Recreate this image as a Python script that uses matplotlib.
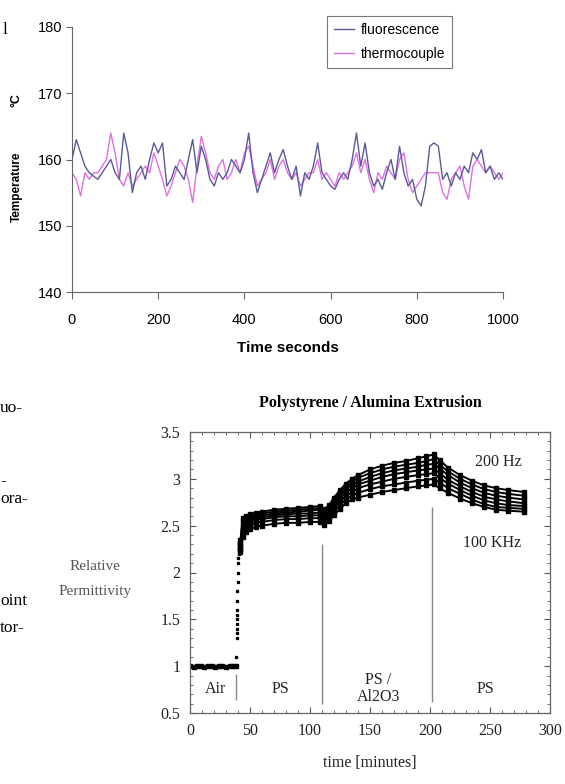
import numpy as np
import matplotlib.pyplot as plt
from matplotlib.ticker import MultipleLocator

# ---- top chart: temperature trace ----
time_s = np.arange(0, 1001, 10)
fluorescence = [
    160, 163, 161, 159, 158, 157.5, 157, 158, 159, 160,
    158, 157, 164, 161, 155, 158, 159, 157, 160, 162.5,
    161, 162.5, 156, 157, 159, 158, 157, 160, 163, 158,
    162, 160, 157, 156, 158, 157, 158, 160, 159, 158,
    160, 164, 158, 155, 157, 159, 161, 158, 160, 161.5,
    159, 157, 159, 154.5, 158, 157, 159, 162.5, 158, 157,
    156, 155.5, 157, 158, 157, 160, 164, 159, 162.5, 158,
    156, 157, 155.5, 158, 160, 157, 162, 158, 156, 157,
    154, 153, 156, 162, 162.5, 162, 157, 158, 156, 158,
    157, 159, 158, 161, 160, 161.5, 158, 159, 157, 158,
    157,
]
thermocouple = [
    158, 157, 154.5, 158, 157, 158, 158, 159, 160, 164,
    161, 157, 156, 158, 156, 157, 158, 159, 158, 161,
    159, 157, 154.5, 156, 158, 160, 159, 157, 153.5, 159,
    163.5, 161, 158, 157, 159, 160, 157, 158, 160, 158,
    161, 162, 159, 156, 157, 158, 160, 157, 159, 160,
    158, 157, 158, 156, 157, 158, 158, 160, 157, 158,
    157, 156, 158, 157, 158, 159, 161, 158, 160, 157,
    155, 158, 157, 159, 158, 157, 160, 161, 157, 155,
    156, 157, 158, 158, 158, 158, 155, 154, 157, 158,
    159, 156, 154, 159, 160, 159, 158, 159, 158, 157,
    158,
]

# ---- bottom chart: permittivity during extrusion ----
air_time = [0, 3, 6, 9, 12, 15, 18, 21, 24, 27, 30, 33, 36, 38]
air_perm = [1.0, 0.99, 1.0, 1.0, 0.99, 1.0, 1.0, 0.99, 1.0, 1.0, 0.99, 1.0, 1.0, 1.0]
rise_time = [38.5, 39.5, 39.5, 39.5, 39.5, 39.5, 39.5, 39.5, 39.5, 39.5,
             40, 40, 40, 40, 40.5, 40.5, 41]
rise_perm = [1.1, 1.3, 1.35, 1.4, 1.45, 1.5, 1.55, 1.6, 1.7, 1.8,
             1.9, 2.0, 2.1, 2.15, 2.2, 2.25, 2.3]

ext_time = [42, 44, 47, 50, 55, 60, 70, 80, 90, 100, 108, 112, 116, 120, 125, 130, 135,
            140, 150, 160, 170, 180, 190, 197, 203, 208, 215, 225, 235, 245, 255, 265, 278]
perm_200hz = [2.35, 2.58, 2.60, 2.62, 2.64, 2.65, 2.67, 2.68, 2.69, 2.70, 2.71, 2.68, 2.72,
              2.80, 2.88, 2.95, 3.00, 3.04, 3.10, 3.14, 3.17, 3.19, 3.22, 3.24, 3.26, 3.20,
              3.12, 3.04, 2.98, 2.93, 2.90, 2.88, 2.86]
perm_f2 = [2.32, 2.55, 2.58, 2.60, 2.62, 2.63, 2.65, 2.66, 2.67, 2.68, 2.69, 2.66, 2.70,
           2.77, 2.85, 2.92, 2.97, 3.01, 3.06, 3.10, 3.13, 3.15, 3.17, 3.19, 3.21, 3.15,
           3.08, 3.00, 2.94, 2.89, 2.86, 2.84, 2.82]
perm_f3 = [2.30, 2.52, 2.56, 2.58, 2.60, 2.61, 2.63, 2.64, 2.65, 2.66, 2.67, 2.64, 2.68,
           2.74, 2.82, 2.89, 2.94, 2.97, 3.02, 3.06, 3.09, 3.11, 3.13, 3.15, 3.16, 3.11,
           3.04, 2.96, 2.90, 2.85, 2.82, 2.80, 2.78]
perm_f4 = [2.28, 2.49, 2.53, 2.56, 2.58, 2.59, 2.61, 2.62, 2.63, 2.63, 2.64, 2.61, 2.65,
           2.71, 2.79, 2.86, 2.90, 2.94, 2.98, 3.02, 3.05, 3.07, 3.09, 3.10, 3.11, 3.06,
           2.99, 2.92, 2.86, 2.81, 2.78, 2.76, 2.74]
perm_f5 = [2.26, 2.46, 2.50, 2.53, 2.56, 2.57, 2.59, 2.60, 2.60, 2.61, 2.61, 2.58, 2.62,
           2.68, 2.76, 2.82, 2.86, 2.90, 2.94, 2.97, 3.00, 3.02, 3.04, 3.05, 3.06, 3.01,
           2.95, 2.88, 2.82, 2.77, 2.74, 2.72, 2.71]
perm_f6 = [2.24, 2.42, 2.47, 2.50, 2.53, 2.54, 2.56, 2.57, 2.57, 2.58, 2.58, 2.55, 2.59,
           2.65, 2.72, 2.78, 2.82, 2.85, 2.89, 2.92, 2.94, 2.96, 2.98, 2.99, 3.00, 2.96,
           2.90, 2.84, 2.78, 2.73, 2.70, 2.69, 2.68]
perm_100khz = [2.22, 2.38, 2.43, 2.46, 2.49, 2.50, 2.52, 2.53, 2.53, 2.54, 2.54, 2.51, 2.55,
               2.61, 2.68, 2.74, 2.78, 2.80, 2.83, 2.86, 2.88, 2.90, 2.92, 2.93, 2.94, 2.90,
               2.85, 2.79, 2.74, 2.70, 2.67, 2.66, 2.65]

SANS = ["Liberation Sans", "DejaVu Sans"]
SERIF = ["Liberation Serif", "DejaVu Serif"]

fig = plt.figure(figsize=(5.65, 7.84), dpi=100)

# page text clipped at the left edge
page_lines = [("l", 0.004, 0.962), ("uo-", 0.0, 0.479), ("-", 0.0, 0.386),
              ("ora-", 0.0, 0.363), ("oint", 0.0, 0.233), ("tor-", 0.0, 0.199)]
for txt, x, y in page_lines:
    fig.text(x, y, txt, family=SERIF, fontsize=12.5, va="center", ha="left")

# ---- top axes ----
ax1 = fig.add_axes([72 / 565, 1 - 292 / 784, 431 / 565, 265 / 784])
ax1.plot(time_s, thermocouple, color="#e070e0", lw=1.0, label="thermocouple", zorder=2)
ax1.plot(time_s, fluorescence, color="#5a5a98", lw=1.0, label="fluorescence", zorder=3)
ax1.set_xlim(0, 1000)
ax1.set_ylim(140, 180)
ax1.set_xticks(range(0, 1001, 200))
ax1.set_yticks(range(140, 181, 10))
ax1.spines[["top", "right"]].set_visible(False)
for s in ("left", "bottom"):
    ax1.spines[s].set_color("#666666")
    ax1.spines[s].set_linewidth(0.8)
ax1.tick_params(axis="y", direction="out", length=4, color="#666666", labelsize=10.5, pad=3)
ax1.tick_params(axis="x", direction="out", length=5, color="#666666", labelsize=10.5, pad=10)
for lab in ax1.get_xticklabels() + ax1.get_yticklabels():
    lab.set_family(SANS)
ax1.set_xlabel("Time seconds", family=SANS, fontsize=11, fontweight="bold", labelpad=10)
handles, labels = ax1.get_legend_handles_labels()
leg = ax1.legend(handles[::-1], labels[::-1], loc="upper right", bbox_to_anchor=(0.882, 1.04),
                 borderaxespad=0, fancybox=False, prop={"family": SANS, "size": 10},
                 handlelength=1.4, handletextpad=0.5, labelspacing=0.7, borderpad=0.5)
leg.get_frame().set_edgecolor("#555555")
leg.get_frame().set_linewidth(0.8)
fig.text(17 / 565, 1 - 187 / 784, "Temperature", rotation=90, family=SANS, fontsize=8.5,
         fontweight="bold", ha="center", va="center")
fig.text(17 / 565, 1 - 100 / 784, "°C", rotation=90, family=SANS, fontsize=9,
         fontweight="bold", ha="center", va="center")

# ---- bottom axes ----
ax2 = fig.add_axes([190 / 565, 1 - 713 / 784, 360 / 565, 281 / 784])
ax2.plot(air_time, air_perm, color="black", lw=1.8, marker="s", ms=2.2)
ax2.plot(rise_time, rise_perm, ls="none", color="black", marker="s", ms=1.4)
for curve in (perm_200hz, perm_f2, perm_f3, perm_f4, perm_f5, perm_f6, perm_100khz):
    ax2.plot(ext_time, curve, color="black", lw=1.4, marker="s", ms=2.6)

ax2.vlines([110], 0.6, 2.3, color="#888888", lw=1.0)
ax2.vlines([202], 0.62, 2.7, color="#888888", lw=1.0)
ax2.vlines([38], 0.64, 0.92, color="#888888", lw=1.0)

text_kw = dict(family=SERIF, fontsize=11.5, color="#222222", ha="center", va="center")
ax2.text(21, 0.76, "Air", **text_kw)
ax2.text(75, 0.76, "PS", **text_kw)
ax2.text(157, 0.76, "PS /\nAl2O3", linespacing=1.1, **text_kw)
ax2.text(246, 0.76, "PS", **text_kw)
ax2.text(257, 3.18, "200 Hz", **text_kw)
ax2.text(252, 2.31, "100 KHz", **text_kw)

ax2.set_xlim(0, 300)
ax2.set_ylim(0.5, 3.5)
ax2.xaxis.set_major_locator(MultipleLocator(50))
ax2.xaxis.set_minor_locator(MultipleLocator(10))
ax2.yaxis.set_major_locator(MultipleLocator(0.5))
ax2.yaxis.set_minor_locator(MultipleLocator(0.1))
ax2.yaxis.set_major_formatter(plt.FuncFormatter(lambda v, p: f"{v:g}"))
ax2.tick_params(which="both", direction="in", top=True, right=True, color="#555555")
ax2.tick_params(which="major", length=4, labelsize=11.5, pad=7, labelcolor="#222222")
ax2.tick_params(which="minor", length=2)
for lab in ax2.get_xticklabels() + ax2.get_yticklabels():
    lab.set_family(SERIF)
for s in ax2.spines.values():
    s.set_color("#666666")
    s.set_linewidth(0.9)
ax2.set_title("Polystyrene / Alumina Extrusion", family=SERIF, fontsize=11.5,
              fontweight="bold", pad=18)
ax2.set_xlabel("time [minutes]", family=SERIF, fontsize=11.5, color="#222222", labelpad=12)
fig.text(95 / 565, 1 - 567 / 784, "Relative", family=SERIF, fontsize=11, color="#555555",
         ha="center", va="center")
fig.text(95 / 565, 1 - 592 / 784, "Permittivity", family=SERIF, fontsize=11, color="#555555",
         ha="center", va="center")

fig.savefig("out.png", dpi=100)
